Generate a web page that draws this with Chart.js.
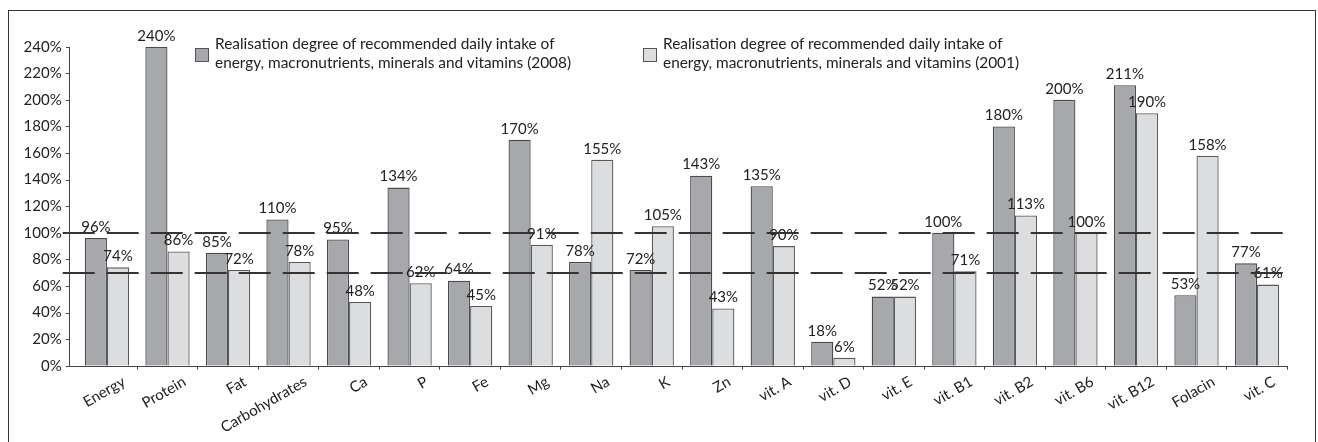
<!DOCTYPE html>
<html><head><meta charset="utf-8">
<script src="https://cdn.jsdelivr.net/npm/chart.js@4.4.1/dist/chart.umd.min.js"></script>
<style>
html,body{margin:0;padding:0;background:#fff;overflow:hidden;}
#wrap{position:absolute;left:0;top:0;width:1318px;height:442px;}
#frame{position:absolute;left:8px;top:10px;width:1306px;height:460px;border:1px solid #333;}
.legtext{position:absolute;font-family:Lato, sans-serif;font-size:15.4px;line-height:18.5px;color:#222;white-space:pre;}
.legbox{position:absolute;width:12px;height:12px;border:1px solid #555;}
</style></head>
<body>
<div id="frame"></div>
<div id="wrap"><canvas id="c"></canvas></div>
<div id="legend"></div>
<script>
const categories = ['Energy','Protein','Fat','Carbohydrates','Ca','P','Fe','Mg','Na','K','Zn','vit. A','vit. D','vit. E','vit. B1','vit. B2','vit. B6','vit. B12','Folacin','vit. C'];
const values2008 = [96,240,85,110,95,134,64,170,78,72,143,135,18,52,100,180,200,211,53,77];
const values2001 = [74,86,72,78,48,62,45,91,155,105,43,90,6,52,71,113,100,190,158,61];
const seriesLabels = [
  'Realisation degree of recommended daily intake of\nenergy, macronutrients, minerals and vitamins (2008)',
  'Realisation degree of recommended daily intake of\nenergy, macronutrients, minerals and vitamins (2001)'
];
const seriesColors = ['#a7a8ab', '#dcdddf'];
const seriesBorders = ['#4a4a4a', '#5a5a5a'];
const referenceLines = [100, 70];
const yMin = 0, yMax = 240, yStep = 20;

// HTML legend
const legendPos = [{x:195, y:34}, {x:643, y:34}];
const legendEl = document.getElementById('legend');
seriesLabels.forEach((lab, i) => {
  const b = document.createElement('div');
  b.className = 'legbox';
  b.style.left = legendPos[i].x + 'px';
  b.style.top = (legendPos[i].y + 14) + 'px';
  b.style.background = seriesColors[i];
  legendEl.appendChild(b);
  const t = document.createElement('div');
  t.className = 'legtext';
  t.style.left = (legendPos[i].x + 20) + 'px';
  t.style.top = legendPos[i].y + 'px';
  t.textContent = lab;
  legendEl.appendChild(t);
});

const FONT = 'Lato, sans-serif';
const axisGap = 8;

const overlay = {
  id: 'overlay',
  afterDatasetsDraw(chart) {
    const ctx = chart.ctx;
    const ya = chart.scales.y;
    const ca = chart.chartArea;
    const axisX = ca.left - axisGap;
    ctx.save();
    // data labels
    ctx.font = '15px ' + FONT;
    ctx.fillStyle = '#222';
    ctx.textAlign = 'center';
    ctx.textBaseline = 'middle';
    chart.data.datasets.forEach((ds, di) => {
      const meta = chart.getDatasetMeta(di);
      meta.data.forEach((el, i) => {
        ctx.fillText(ds.data[i] + '%', el.x, el.y - 11);
      });
    });
    // reference dashed lines
    ctx.strokeStyle = '#333';
    ctx.lineWidth = 2;
    ctx.setLineDash([32, 12]);
    referenceLines.forEach(v => {
      const y = Math.round(ya.getPixelForValue(v));
      ctx.beginPath();
      ctx.moveTo(axisX - 6, y);
      ctx.lineTo(ca.right, y);
      ctx.stroke();
    });
    ctx.setLineDash([]);
    // axes
    ctx.strokeStyle = '#444';
    ctx.lineWidth = 1;
    const y0 = Math.round(ya.getPixelForValue(yMin)) + 0.5;
    const yTop = Math.round(ya.getPixelForValue(yMax));
    ctx.beginPath();
    ctx.moveTo(Math.round(axisX) + 0.5, yTop);
    ctx.lineTo(Math.round(axisX) + 0.5, y0);
    ctx.stroke();
    for (let v = yMin; v <= yMax; v += yStep) {
      const y = Math.round(ya.getPixelForValue(v)) + 0.5;
      ctx.beginPath();
      ctx.moveTo(Math.round(axisX) - 3, y);
      ctx.lineTo(Math.round(axisX) + 0.5, y);
      ctx.stroke();
    }
    ctx.beginPath();
    ctx.moveTo(Math.round(axisX), y0);
    ctx.lineTo(ca.right, y0);
    ctx.stroke();
    ctx.restore();
  }
};

new Chart(document.getElementById('c'), {
  type: 'bar',
  data: {
    labels: categories,
    datasets: [
      { label: seriesLabels[0], data: values2008, backgroundColor: seriesColors[0], borderColor: seriesBorders[0], borderWidth: 1.3 },
      { label: seriesLabels[1], data: values2001, backgroundColor: seriesColors[1], borderColor: seriesBorders[1], borderWidth: 1.3 }
    ]
  },
  options: {
    responsive: true,
    maintainAspectRatio: false,
    animation: false,
    events: [],
    layout: { autoPadding: false, padding: { left: 0, right: 30.7, top: 46.7, bottom: 0 } },
    datasets: { bar: { categoryPercentage: 0.732, barPercentage: 1 } },
    plugins: { legend: { display: false }, tooltip: { enabled: false } },
    scales: {
      x: {
        afterFit(s) { s.height = 76.3; },
        border: { display: false },
        grid: { display: true, drawOnChartArea: false, drawTicks: true, tickLength: 4, offset: true,
                color: c => c.index === 0 ? 'rgba(0,0,0,0)' : '#444' },
        ticks: { autoSkip: false, maxRotation: 30, minRotation: 30, labelOffset: 17, padding: 3,
                 color: '#222', font: { family: FONT, size: 15 } }
      },
      y: {
        min: yMin, max: yMax,
        afterFit(s) { s.width = 76.7; },
        border: { display: false },
        grid: { display: false, drawTicks: false },
        ticks: { stepSize: yStep, padding: 15, color: '#222', font: { family: FONT, size: 15 },
                 callback: v => v + '%' }
      }
    }
  },
  plugins: [overlay]
});
</script>
</body></html>
